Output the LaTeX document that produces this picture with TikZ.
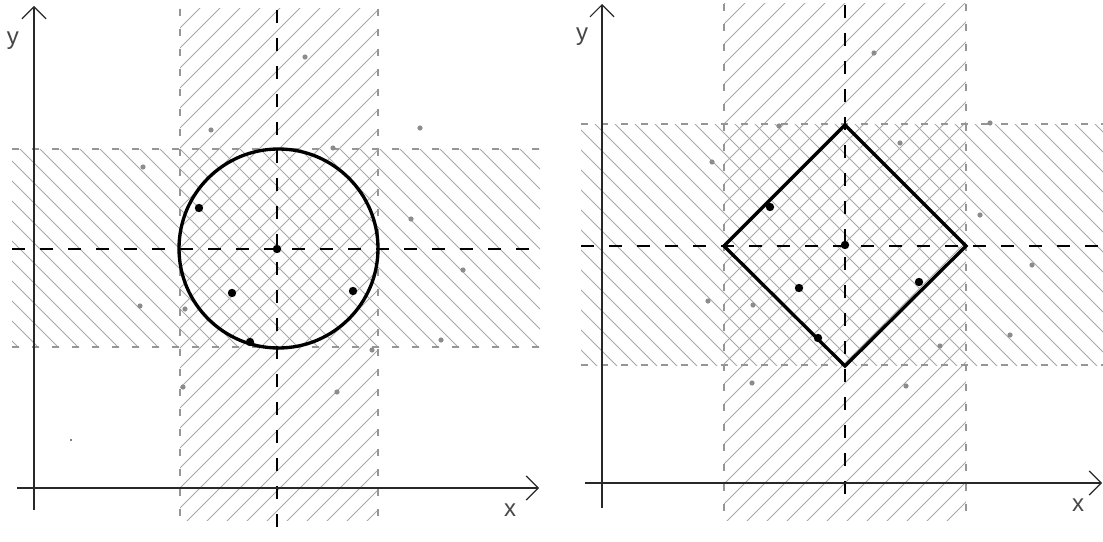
\documentclass[tikz,border=0pt]{standalone}
\usepackage{fontspec}
\setsansfont{Liberation Sans}
\usetikzlibrary{arrows.meta}
\definecolor{hatchgray}{RGB}{168,168,168}
\definecolor{edgegray}{RGB}{150,150,150}
\definecolor{dotgray}{RGB}{140,140,140}
\definecolor{axisgray}{RGB}{40,40,40}
\definecolor{textgray}{RGB}{70,70,70}

\begin{document}
\begin{tikzpicture}[x=0.75pt, y=-0.75pt,
    hatch/.style={hatchgray, line width=0.75pt},
    bandedge/.style={edgegray, line width=0.8pt, dash pattern=on 5.25pt off 9.75pt},
    midline/.style={black, line width=1.1pt, dash pattern=on 9.75pt off 11.25pt},
    axis/.style={axisgray, line width=1.1pt, -{Straight Barb[length=9pt, width=18pt, line width=0.9pt]}},
    figline/.style={black, line width=2.5pt},
    bigdot/.style={black},
    smalldot/.style={dotgray},
    axlabel/.style={font=\sffamily\fontsize{18}{18}\selectfont, text=textgray, inner sep=0pt}
]
\useasboundingbox (0,0) rectangle (1103,542);

% Left panel: bands
\begin{scope}
  \clip (180,9) rectangle (378,520);
  \foreach \c in {188,208,...,908} \draw[hatch] (\c,0) -- ++(-600,600);
\end{scope}
\begin{scope}
  \clip (12,149) rectangle (540,347);
  \foreach \c in {-349,-329,...,411} \draw[hatch] (\c,0) -- ++(600,600);
\end{scope}
\draw[bandedge] (180,9) -- (180,520);
\draw[bandedge] (378,9) -- (378,520);
\draw[bandedge] (12,149) -- (540,149);
\draw[bandedge] (12,347) -- (540,347);

% Left panel: center lines and axes
\draw[midline] (277,10) -- (277,540);
\draw[midline] (12,249) -- (540,249);
\coordinate (xa1) at (539,488);
\coordinate (ya1) at (34,6);
\draw[axis] (17,488) -- (xa1);
\draw[axis] (34,510) -- (ya1);
\node[axlabel] (xl1) at (510,510) {x};
\node[axlabel] (yl1) at (13,41) {y};

% Left panel: circle and points
\draw[figline] (278.5,248.5) circle (99.5);
\foreach \px/\py in {305/57,211/130,333/148,420/128,143/167,411/219,463/270,
                     140/306,185/309,441/340,372/350,183/387,337/392}
  \fill[smalldot] (\px,\py) circle (2.6);
\foreach \px/\py in {199/208,277/249,232/293,353/291,250/342}
  \fill[bigdot] (\px,\py) circle (4.2);
\fill[bigdot] (71,440) circle (0.8);

% Right panel: bands
\begin{scope}
  \clip (724,4) rectangle (966,520);
  \foreach \c in {728,748,...,1508} \draw[hatch] (\c,0) -- ++(-600,600);
\end{scope}
\begin{scope}
  \clip (581,124) rectangle (1103,365);
  \foreach \c in {211,231,...,991} \draw[hatch] (\c,0) -- ++(600,600);
\end{scope}
\draw[bandedge] (724,4) -- (724,520);
\draw[bandedge] (966,4) -- (966,520);
\draw[bandedge] (581,124) -- (1103,124);
\draw[bandedge] (581,365) -- (1103,365);

% Right panel: center lines and axes
\draw[midline] (845,5) -- (845,508);
\draw[midline] (581,246) -- (1103,246);
\coordinate (xa2) at (1102,483);
\coordinate (ya2) at (602,4);
\draw[axis] (585,483) -- (xa2);
\draw[axis] (602,508) -- (ya2);
\node[axlabel] (xl2) at (1078,505) {x};
\node[axlabel] (yl2) at (582,37) {y};

% Right panel: diamond and points
\draw[figline, line join=miter] (845,125) -- (966,246) -- (845,366) -- (724,246) -- cycle;
\foreach \px/\py in {874/53,779/126,712/162,900/143,990/123,980/215,1032/265,
                     708/301,753/305,1010/335,940/346,752/383,906/386}
  \fill[smalldot] (\px,\py) circle (2.6);
\foreach \px/\py in {770/207,845/245,799/288,919/282,818/338}
  \fill[bigdot] (\px,\py) circle (4.2);
\end{tikzpicture}
\end{document}
